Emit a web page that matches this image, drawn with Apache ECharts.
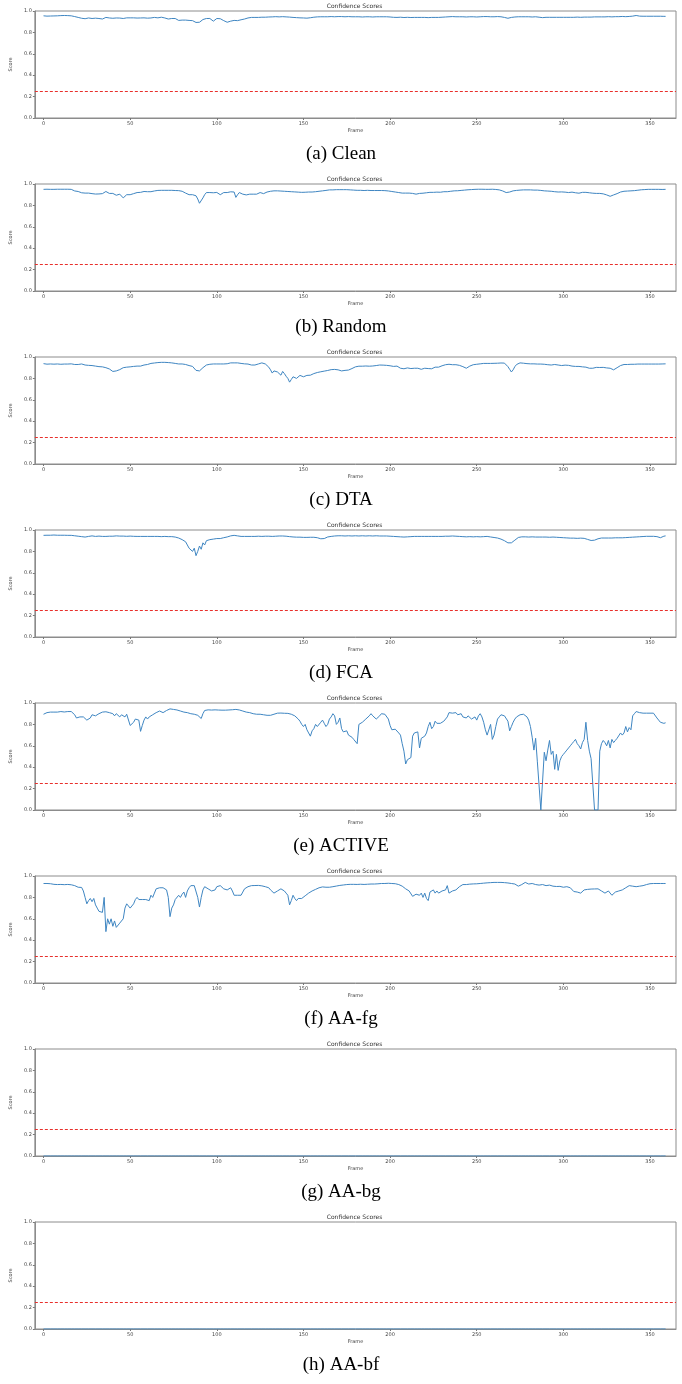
<!DOCTYPE html>
<html style="height: 100%">
  <head>
    <meta charset="utf-8" />
  </head>
  <body style="height: 100%; margin: 0; background: #fff">
    <div id="container" style="width: 682px; height: 1384px"></div>

    <script
      type="text/javascript"
      src="https://cdn.jsdelivr.net/npm/echarts@6/dist/echarts.min.js"
    ></script>

    <script type="text/javascript">
      var captions = ["(a) Clean", "(b) Random", "(c) DTA", "(d) FCA", "(e) ACTIVE", "(f) AA-fg", "(g) AA-bg", "(h) AA-bf"];
      var xTicks = [0, 50, 100, 150, 200, 250, 300, 350];
      var threshold = 0.25;

      // confidence score per frame (frames 0..359), 20 frames per row
      var clean = [
        0.955,0.953,0.952,0.952,0.953,0.953,0.954,0.955,0.955,0.956,0.957,0.958,0.958,0.958,0.957,0.956,0.955,0.952,0.948,0.944,
        0.94,0.935,0.932,0.93,0.928,0.932,0.935,0.933,0.93,0.932,0.933,0.932,0.93,0.929,0.925,0.935,0.94,0.938,0.935,0.934,
        0.932,0.933,0.935,0.936,0.934,0.932,0.93,0.935,0.936,0.935,0.936,0.937,0.936,0.935,0.934,0.932,0.935,0.937,0.936,0.935,
        0.933,0.93,0.935,0.938,0.94,0.938,0.936,0.94,0.942,0.94,0.935,0.93,0.925,0.928,0.93,0.932,0.93,0.92,0.912,0.91,
        0.915,0.918,0.915,0.91,0.912,0.915,0.91,0.9,0.893,0.885,0.895,0.91,0.92,0.925,0.93,0.935,0.93,0.92,0.905,0.915,
        0.93,0.932,0.928,0.92,0.91,0.895,0.895,0.9,0.905,0.91,0.912,0.905,0.91,0.915,0.918,0.92,0.925,0.93,0.935,0.937,
        0.94,0.94,0.94,0.942,0.94,0.941,0.942,0.943,0.942,0.943,0.944,0.945,0.945,0.946,0.947,0.946,0.945,0.946,0.947,0.945,
        0.945,0.944,0.943,0.942,0.94,0.94,0.938,0.937,0.936,0.935,0.935,0.934,0.933,0.935,0.937,0.94,0.942,0.944,0.945,0.946,
        0.946,0.947,0.946,0.945,0.946,0.947,0.948,0.947,0.946,0.947,0.948,0.949,0.948,0.947,0.946,0.947,0.948,0.947,0.946,0.945,
        0.946,0.947,0.946,0.945,0.944,0.945,0.946,0.947,0.946,0.945,0.944,0.945,0.946,0.947,0.946,0.945,0.946,0.947,0.946,0.945,
        0.944,0.942,0.941,0.94,0.94,0.941,0.942,0.94,0.939,0.94,0.941,0.94,0.939,0.938,0.94,0.941,0.94,0.939,0.94,0.941,
        0.94,0.939,0.938,0.939,0.94,0.941,0.94,0.939,0.94,0.941,0.942,0.943,0.944,0.945,0.946,0.947,0.948,0.947,0.946,0.945,
        0.946,0.947,0.946,0.945,0.944,0.945,0.946,0.947,0.946,0.945,0.944,0.945,0.946,0.947,0.948,0.949,0.948,0.947,0.946,0.945,
        0.946,0.947,0.948,0.947,0.946,0.945,0.94,0.935,0.932,0.935,0.94,0.942,0.944,0.945,0.946,0.947,0.946,0.945,0.946,0.947,
        0.946,0.945,0.944,0.945,0.946,0.944,0.942,0.94,0.938,0.94,0.941,0.942,0.941,0.94,0.941,0.942,0.941,0.94,0.941,0.942,
        0.941,0.94,0.941,0.942,0.941,0.94,0.941,0.942,0.943,0.942,0.941,0.942,0.943,0.944,0.943,0.942,0.943,0.944,0.945,0.944,
        0.945,0.946,0.945,0.944,0.945,0.946,0.947,0.946,0.945,0.946,0.947,0.948,0.947,0.948,0.949,0.948,0.947,0.948,0.949,0.95,
        0.952,0.955,0.958,0.955,0.952,0.95,0.951,0.952,0.951,0.95,0.951,0.952,0.951,0.95,0.951,0.952,0.951,0.95,0.95,0.95
      ];

      var random = [
        0.95,0.95,0.951,0.95,0.95,0.951,0.95,0.95,0.951,0.952,0.951,0.95,0.951,0.952,0.951,0.95,0.95,0.945,0.935,0.932,
        0.93,0.925,0.918,0.915,0.915,0.914,0.915,0.913,0.91,0.908,0.906,0.905,0.907,0.906,0.91,0.92,0.93,0.925,0.912,0.91,
        0.912,0.905,0.895,0.9,0.905,0.89,0.87,0.885,0.9,0.902,0.9,0.905,0.91,0.915,0.92,0.925,0.922,0.925,0.93,0.93,
        0.928,0.925,0.928,0.932,0.935,0.938,0.94,0.94,0.941,0.94,0.941,0.942,0.941,0.94,0.941,0.94,0.939,0.94,0.938,0.935,
        0.932,0.925,0.915,0.905,0.9,0.902,0.9,0.895,0.89,0.86,0.82,0.835,0.87,0.9,0.92,0.922,0.92,0.92,0.918,0.92,
        0.921,0.91,0.9,0.91,0.92,0.922,0.92,0.925,0.927,0.93,0.925,0.875,0.9,0.92,0.915,0.905,0.9,0.898,0.9,0.905,
        0.91,0.905,0.9,0.905,0.915,0.92,0.915,0.91,0.92,0.925,0.93,0.932,0.935,0.936,0.935,0.936,0.935,0.934,0.933,0.932,
        0.931,0.93,0.929,0.928,0.927,0.926,0.925,0.924,0.923,0.922,0.922,0.923,0.924,0.925,0.926,0.925,0.926,0.928,0.93,0.932,
        0.934,0.936,0.938,0.94,0.942,0.945,0.946,0.945,0.946,0.947,0.946,0.947,0.948,0.947,0.946,0.947,0.946,0.945,0.944,0.943,
        0.942,0.941,0.94,0.941,0.94,0.939,0.94,0.941,0.94,0.939,0.938,0.939,0.94,0.939,0.938,0.939,0.94,0.938,0.936,0.935,
        0.933,0.93,0.928,0.925,0.922,0.92,0.918,0.915,0.918,0.915,0.912,0.915,0.918,0.912,0.908,0.905,0.91,0.912,0.915,0.914,
        0.915,0.918,0.92,0.922,0.92,0.922,0.925,0.924,0.925,0.923,0.925,0.928,0.93,0.928,0.93,0.932,0.935,0.936,0.935,0.937,
        0.938,0.94,0.942,0.943,0.945,0.946,0.947,0.948,0.949,0.95,0.95,0.951,0.95,0.951,0.95,0.95,0.951,0.95,0.95,0.951,
        0.95,0.949,0.948,0.945,0.94,0.935,0.928,0.92,0.918,0.925,0.932,0.936,0.938,0.94,0.942,0.943,0.944,0.945,0.944,0.945,
        0.946,0.945,0.944,0.943,0.942,0.943,0.942,0.94,0.938,0.936,0.935,0.934,0.933,0.932,0.93,0.928,0.926,0.925,0.927,0.926,
        0.925,0.924,0.922,0.92,0.922,0.924,0.922,0.918,0.915,0.914,0.918,0.922,0.925,0.922,0.92,0.918,0.916,0.914,0.915,0.912,
        0.91,0.912,0.91,0.908,0.905,0.898,0.89,0.885,0.89,0.898,0.905,0.91,0.918,0.925,0.93,0.932,0.933,0.934,0.935,0.936,
        0.937,0.938,0.94,0.942,0.944,0.946,0.947,0.948,0.949,0.95,0.951,0.95,0.951,0.95,0.951,0.95,0.95,0.949,0.95,0.95
      ];

      var dta = [
        0.938,0.935,0.933,0.934,0.935,0.934,0.933,0.934,0.935,0.934,0.932,0.933,0.934,0.933,0.934,0.935,0.936,0.935,0.93,0.928,
        0.93,0.932,0.935,0.93,0.925,0.92,0.922,0.918,0.92,0.918,0.915,0.912,0.91,0.912,0.908,0.905,0.9,0.895,0.888,0.88,
        0.865,0.862,0.87,0.875,0.882,0.89,0.9,0.91,0.905,0.9,0.908,0.91,0.912,0.91,0.915,0.918,0.915,0.92,0.925,0.928,
        0.93,0.935,0.94,0.942,0.944,0.946,0.948,0.95,0.95,0.949,0.95,0.949,0.948,0.947,0.945,0.942,0.94,0.938,0.935,0.94,
        0.935,0.932,0.93,0.925,0.92,0.918,0.912,0.9,0.875,0.86,0.87,0.885,0.9,0.915,0.925,0.93,0.932,0.934,0.935,0.934,
        0.935,0.936,0.935,0.934,0.935,0.936,0.937,0.94,0.945,0.946,0.945,0.944,0.945,0.943,0.94,0.938,0.936,0.935,0.934,0.93,
        0.925,0.918,0.925,0.932,0.935,0.94,0.945,0.94,0.935,0.925,0.905,0.88,0.85,0.87,0.875,0.86,0.855,0.83,0.865,0.845,
        0.82,0.8,0.765,0.79,0.815,0.805,0.8,0.81,0.828,0.82,0.815,0.825,0.828,0.81,0.83,0.84,0.845,0.85,0.855,0.86,
        0.862,0.865,0.868,0.87,0.874,0.878,0.882,0.885,0.884,0.882,0.88,0.875,0.87,0.872,0.875,0.874,0.878,0.885,0.892,0.9,
        0.908,0.912,0.914,0.915,0.914,0.915,0.916,0.915,0.914,0.915,0.916,0.918,0.92,0.922,0.925,0.926,0.924,0.925,0.922,0.92,
        0.918,0.915,0.912,0.91,0.915,0.905,0.895,0.88,0.89,0.9,0.898,0.895,0.892,0.888,0.895,0.9,0.895,0.89,0.885,0.89,
        0.895,0.9,0.892,0.885,0.89,0.898,0.905,0.91,0.905,0.91,0.918,0.925,0.928,0.93,0.932,0.93,0.928,0.93,0.928,0.925,
        0.922,0.918,0.91,0.9,0.895,0.905,0.915,0.922,0.928,0.93,0.932,0.935,0.936,0.938,0.94,0.941,0.94,0.939,0.94,0.942,
        0.941,0.94,0.942,0.943,0.944,0.945,0.943,0.935,0.91,0.885,0.86,0.88,0.91,0.93,0.94,0.945,0.944,0.942,0.94,0.938,
        0.937,0.936,0.935,0.936,0.935,0.934,0.935,0.934,0.933,0.932,0.93,0.928,0.926,0.925,0.928,0.93,0.928,0.925,0.922,0.92,
        0.922,0.924,0.925,0.922,0.92,0.915,0.91,0.912,0.915,0.912,0.905,0.908,0.91,0.905,0.9,0.895,0.885,0.895,0.905,0.903,
        0.9,0.902,0.905,0.903,0.9,0.898,0.902,0.895,0.885,0.88,0.89,0.9,0.91,0.92,0.928,0.93,0.931,0.93,0.931,0.932,
        0.933,0.932,0.933,0.934,0.935,0.934,0.933,0.934,0.935,0.934,0.933,0.934,0.935,0.934,0.933,0.934,0.935,0.935,0.936,0.936
      ];

      var fca = [
        0.95,0.95,0.951,0.95,0.951,0.952,0.953,0.952,0.951,0.952,0.951,0.95,0.951,0.95,0.95,0.949,0.95,0.948,0.946,0.944,
        0.942,0.94,0.938,0.935,0.934,0.936,0.94,0.942,0.945,0.943,0.94,0.942,0.943,0.941,0.94,0.938,0.94,0.941,0.942,0.943,
        0.942,0.944,0.945,0.944,0.943,0.942,0.943,0.942,0.941,0.942,0.943,0.942,0.941,0.94,0.94,0.941,0.94,0.939,0.94,0.941,
        0.94,0.939,0.94,0.941,0.94,0.939,0.94,0.939,0.938,0.939,0.94,0.939,0.938,0.937,0.938,0.936,0.934,0.93,0.925,0.915,
        0.91,0.9,0.89,0.86,0.83,0.84,0.8,0.83,0.76,0.8,0.85,0.82,0.88,0.86,0.9,0.905,0.91,0.912,0.915,0.918,
        0.92,0.922,0.92,0.925,0.928,0.93,0.935,0.94,0.945,0.948,0.95,0.948,0.945,0.943,0.94,0.938,0.94,0.939,0.94,0.941,
        0.94,0.939,0.94,0.941,0.942,0.941,0.94,0.941,0.942,0.943,0.942,0.941,0.94,0.941,0.942,0.943,0.944,0.945,0.944,0.943,
        0.942,0.94,0.938,0.936,0.935,0.934,0.933,0.932,0.933,0.932,0.931,0.93,0.931,0.93,0.932,0.933,0.932,0.93,0.928,0.925,
        0.918,0.912,0.92,0.93,0.935,0.938,0.94,0.942,0.944,0.945,0.946,0.945,0.946,0.945,0.944,0.945,0.946,0.945,0.944,0.945,
        0.946,0.945,0.944,0.945,0.946,0.945,0.944,0.945,0.946,0.945,0.944,0.945,0.946,0.945,0.944,0.945,0.944,0.943,0.944,0.943,
        0.942,0.941,0.94,0.939,0.938,0.937,0.936,0.935,0.934,0.935,0.936,0.937,0.938,0.939,0.94,0.939,0.94,0.939,0.94,0.941,
        0.94,0.939,0.94,0.941,0.94,0.939,0.94,0.941,0.94,0.939,0.94,0.941,0.942,0.941,0.942,0.943,0.944,0.943,0.942,0.941,
        0.94,0.939,0.938,0.937,0.936,0.937,0.938,0.937,0.936,0.937,0.938,0.937,0.936,0.937,0.938,0.939,0.94,0.938,0.935,0.932,
        0.93,0.928,0.925,0.92,0.915,0.91,0.9,0.89,0.88,0.875,0.88,0.89,0.905,0.92,0.93,0.935,0.936,0.935,0.936,0.935,
        0.934,0.935,0.936,0.935,0.934,0.935,0.934,0.933,0.934,0.935,0.934,0.933,0.932,0.933,0.934,0.933,0.932,0.931,0.93,0.929,
        0.928,0.927,0.926,0.925,0.924,0.925,0.924,0.923,0.922,0.923,0.924,0.923,0.922,0.918,0.912,0.905,0.902,0.9,0.905,0.912,
        0.918,0.922,0.925,0.924,0.925,0.926,0.925,0.924,0.925,0.926,0.927,0.928,0.927,0.926,0.927,0.928,0.929,0.93,0.931,0.932,
        0.933,0.934,0.935,0.936,0.937,0.938,0.939,0.94,0.941,0.94,0.941,0.942,0.941,0.94,0.938,0.932,0.928,0.935,0.942,0.945
      ];

      var active = [
        0.895,0.9,0.91,0.912,0.915,0.912,0.915,0.918,0.915,0.917,0.92,0.918,0.916,0.918,0.92,0.918,0.92,0.92,0.89,0.86,
        0.865,0.87,0.872,0.87,0.86,0.84,0.825,0.86,0.89,0.885,0.88,0.89,0.9,0.905,0.915,0.92,0.918,0.912,0.91,0.905,
        0.9,0.88,0.9,0.885,0.87,0.89,0.885,0.87,0.895,0.89,0.79,0.805,0.82,0.85,0.845,0.84,0.735,0.79,0.84,0.87,
        0.85,0.87,0.88,0.89,0.9,0.91,0.92,0.925,0.92,0.91,0.912,0.93,0.935,0.945,0.942,0.94,0.938,0.935,0.93,0.925,
        0.92,0.915,0.912,0.91,0.905,0.9,0.898,0.895,0.89,0.885,0.88,0.855,0.9,0.93,0.935,0.936,0.935,0.934,0.935,0.936,
        0.935,0.934,0.935,0.933,0.932,0.933,0.934,0.935,0.936,0.937,0.938,0.94,0.938,0.935,0.93,0.925,0.92,0.915,0.912,0.91,
        0.905,0.9,0.898,0.895,0.897,0.895,0.893,0.89,0.888,0.885,0.88,0.885,0.89,0.895,0.9,0.905,0.908,0.906,0.905,0.904,
        0.905,0.903,0.9,0.895,0.89,0.88,0.87,0.85,0.83,0.8,0.78,0.8,0.75,0.72,0.69,0.74,0.76,0.8,0.78,0.79,
        0.82,0.84,0.81,0.78,0.8,0.85,0.87,0.9,0.88,0.8,0.82,0.86,0.76,0.73,0.72,0.74,0.7,0.69,0.68,0.66,
        0.65,0.62,0.8,0.81,0.82,0.83,0.85,0.86,0.88,0.9,0.88,0.87,0.85,0.86,0.88,0.9,0.9,0.895,0.89,0.85,
        0.79,0.75,0.76,0.755,0.74,0.72,0.7,0.62,0.55,0.43,0.47,0.485,0.49,0.69,0.72,0.71,0.73,0.58,0.67,0.68,
        0.69,0.72,0.78,0.82,0.76,0.78,0.83,0.81,0.8,0.81,0.82,0.83,0.82,0.87,0.91,0.9,0.905,0.92,0.91,0.89,
        0.895,0.9,0.87,0.875,0.86,0.88,0.87,0.85,0.86,0.87,0.84,0.88,0.9,0.87,0.82,0.75,0.7,0.7,0.8,0.66,
        0.7,0.78,0.85,0.87,0.89,0.885,0.88,0.89,0.83,0.74,0.78,0.82,0.85,0.87,0.88,0.89,0.9,0.895,0.885,0.87,
        0.84,0.78,0.68,0.56,0.67,0.45,0.44,0,0,0.54,0.46,0.56,0.65,0.52,0.55,0.38,0.52,0.37,0.46,0.5,
        0.52,0.54,0.56,0.58,0.6,0.62,0.64,0.66,0.62,0.6,0.57,0.63,0.66,0.82,0.65,0.55,0.48,0.48,0,0,
        0,0.55,0.62,0.65,0.63,0.6,0.65,0.58,0.66,0.63,0.65,0.67,0.66,0.72,0.7,0.72,0.78,0.73,0.77,0.75,
        0.88,0.9,0.92,0.915,0.91,0.9,0.905,0.91,0.905,0.9,0.905,0.91,0.905,0.9,0.86,0.84,0.82,0.815,0.81,0.815
      ];

      var aaFg = [
        0.93,0.93,0.93,0.929,0.928,0.925,0.922,0.921,0.92,0.92,0.921,0.92,0.919,0.92,0.921,0.92,0.918,0.915,0.91,0.9,
        0.895,0.895,0.893,0.86,0.8,0.74,0.77,0.79,0.76,0.79,0.73,0.7,0.67,0.675,0.66,0.8,0.48,0.6,0.55,0.6,
        0.53,0.58,0.52,0.51,0.56,0.55,0.6,0.7,0.74,0.75,0.7,0.71,0.74,0.78,0.8,0.78,0.77,0.78,0.775,0.78,
        0.79,0.77,0.82,0.8,0.84,0.88,0.89,0.89,0.892,0.89,0.888,0.87,0.8,0.62,0.7,0.73,0.78,0.79,0.82,0.8,
        0.83,0.85,0.8,0.86,0.89,0.91,0.912,0.91,0.9,0.8,0.71,0.8,0.87,0.9,0.89,0.88,0.87,0.86,0.85,0.87,
        0.9,0.905,0.91,0.9,0.88,0.885,0.87,0.88,0.89,0.86,0.82,0.815,0.82,0.818,0.82,0.85,0.88,0.89,0.9,0.905,
        0.91,0.912,0.911,0.91,0.912,0.91,0.908,0.905,0.9,0.895,0.89,0.87,0.86,0.84,0.85,0.86,0.87,0.88,0.87,0.86,
        0.84,0.82,0.73,0.77,0.82,0.79,0.77,0.79,0.78,0.79,0.8,0.815,0.83,0.84,0.85,0.86,0.87,0.875,0.88,0.89,
        0.9,0.898,0.896,0.895,0.894,0.895,0.897,0.9,0.903,0.906,0.91,0.912,0.914,0.916,0.918,0.92,0.921,0.922,0.921,0.922,
        0.922,0.921,0.922,0.923,0.922,0.921,0.922,0.923,0.924,0.925,0.924,0.925,0.926,0.927,0.928,0.93,0.931,0.93,0.931,0.932,
        0.931,0.93,0.93,0.928,0.925,0.92,0.915,0.905,0.895,0.88,0.87,0.86,0.85,0.81,0.82,0.83,0.84,0.82,0.84,0.8,
        0.84,0.79,0.77,0.85,0.86,0.87,0.84,0.86,0.84,0.85,0.86,0.865,0.87,0.91,0.84,0.85,0.86,0.865,0.87,0.885,
        0.9,0.91,0.92,0.918,0.92,0.922,0.924,0.925,0.926,0.925,0.927,0.928,0.93,0.932,0.933,0.935,0.936,0.937,0.938,0.939,
        0.94,0.939,0.94,0.941,0.94,0.939,0.938,0.937,0.935,0.933,0.93,0.928,0.925,0.915,0.905,0.912,0.92,0.93,0.94,0.935,
        0.925,0.928,0.93,0.925,0.92,0.91,0.915,0.918,0.92,0.915,0.91,0.912,0.915,0.91,0.905,0.9,0.902,0.905,0.903,0.9,
        0.895,0.898,0.9,0.895,0.89,0.88,0.855,0.87,0.85,0.845,0.84,0.855,0.87,0.872,0.875,0.876,0.878,0.88,0.879,0.88,
        0.88,0.875,0.86,0.85,0.84,0.83,0.86,0.85,0.82,0.835,0.85,0.855,0.86,0.865,0.87,0.88,0.89,0.9,0.91,0.905,
        0.905,0.9,0.9,0.903,0.905,0.908,0.91,0.915,0.92,0.925,0.928,0.93,0.93,0.931,0.93,0.931,0.93,0.931,0.93,0.93
      ];

      var aaBg = [
        0,0,0,0,0,0,0,0,0,0,0,0,0,0,0,0,0,0,0,0,
        0,0,0,0,0,0,0,0,0,0,0,0,0,0,0,0,0,0,0,0,
        0,0,0,0,0,0,0,0,0,0,0,0,0,0,0,0,0,0,0,0,
        0,0,0,0,0,0,0,0,0,0,0,0,0,0,0,0,0,0,0,0,
        0,0,0,0,0,0,0,0,0,0,0,0,0,0,0,0,0,0,0,0,
        0,0,0,0,0,0,0,0,0,0,0,0,0,0,0,0,0,0,0,0,
        0,0,0,0,0,0,0,0,0,0,0,0,0,0,0,0,0,0,0,0,
        0,0,0,0,0,0,0,0,0,0,0,0,0,0,0,0,0,0,0,0,
        0,0,0,0,0,0,0,0,0,0,0,0,0,0,0,0,0,0,0,0,
        0,0,0,0,0,0,0,0,0,0,0,0,0,0,0,0,0,0,0,0,
        0,0,0,0,0,0,0,0,0,0,0,0,0,0,0,0,0,0,0,0,
        0,0,0,0,0,0,0,0,0,0,0,0,0,0,0,0,0,0,0,0,
        0,0,0,0,0,0,0,0,0,0,0,0,0,0,0,0,0,0,0,0,
        0,0,0,0,0,0,0,0,0,0,0,0,0,0,0,0,0,0,0,0,
        0,0,0,0,0,0,0,0,0,0,0,0,0,0,0,0,0,0,0,0,
        0,0,0,0,0,0,0,0,0,0,0,0,0,0,0,0,0,0,0,0,
        0,0,0,0,0,0,0,0,0,0,0,0,0,0,0,0,0,0,0,0,
        0,0,0,0,0,0,0,0,0,0,0,0,0,0,0,0,0,0,0,0
      ];

      var aaBf = [
        0,0,0,0,0,0,0,0,0,0,0,0,0,0,0,0,0,0,0,0,
        0,0,0,0,0,0,0,0,0,0,0,0,0,0,0,0,0,0,0,0,
        0,0,0,0,0,0,0,0,0,0,0,0,0,0,0,0,0,0,0,0,
        0,0,0,0,0,0,0,0,0,0,0,0,0,0,0,0,0,0,0,0,
        0,0,0,0,0,0,0,0,0,0,0,0,0,0,0,0,0,0,0,0,
        0,0,0,0,0,0,0,0,0,0,0,0,0,0,0,0,0,0,0,0,
        0,0,0,0,0,0,0,0,0,0,0,0,0,0,0,0,0,0,0,0,
        0,0,0,0,0,0,0,0,0,0,0,0,0,0,0,0,0,0,0,0,
        0,0,0,0,0,0,0,0,0,0,0,0,0,0,0,0,0,0,0,0,
        0,0,0,0,0,0,0,0,0,0,0,0,0,0,0,0,0,0,0,0,
        0,0,0,0,0,0,0,0,0,0,0,0,0,0,0,0,0,0,0,0,
        0,0,0,0,0,0,0,0,0,0,0,0,0,0,0,0,0,0,0,0,
        0,0,0,0,0,0,0,0,0,0,0,0,0,0,0,0,0,0,0,0,
        0,0,0,0,0,0,0,0,0,0,0,0,0,0,0,0,0,0,0,0,
        0,0,0,0,0,0,0,0,0,0,0,0,0,0,0,0,0,0,0,0,
        0,0,0,0,0,0,0,0,0,0,0,0,0,0,0,0,0,0,0,0,
        0,0,0,0,0,0,0,0,0,0,0,0,0,0,0,0,0,0,0,0,
        0,0,0,0,0,0,0,0,0,0,0,0,0,0,0,0,0,0,0,0
      ];

      var panels = [clean, random, dta, fca, active, aaFg, aaBg, aaBf];

      var dom = document.getElementById("container");
      var myChart = echarts.init(dom, null, { renderer: "canvas" });

      var STEP = 173;
      var PLOT_LEFT = 33;
      var PLOT_W = 643;
      var axisFont = { fontFamily: "DejaVu Sans", fontSize: 5, color: "#444" };

      var grid = [], xAxis = [], yAxis = [], series = [], title = [];

      panels.forEach(function (values, i) {
        var off = i * STEP;
        grid.push({
          left: PLOT_LEFT,
          width: PLOT_W,
          top: 11 + off,
          height: 107,
          show: true,
          borderColor: "#8c8c8c",
          borderWidth: 1,
          backgroundColor: "transparent",
        });
        xAxis.push({
          gridIndex: i,
          type: "value",
          min: -5,
          max: 365,
          name: "Frame",
          nameLocation: "middle",
          nameGap: 10,
          nameTextStyle: axisFont,
          axisLine: { show: true, onZero: false, lineStyle: { color: "#8c8c8c", width: 1 } },
          axisTick: { show: true, length: 2, customValues: xTicks, lineStyle: { color: "#777" } },
          axisLabel: Object.assign({ margin: 3, customValues: xTicks }, axisFont),
          splitLine: { show: false },
        });
        yAxis.push({
          gridIndex: i,
          type: "value",
          min: 0,
          max: 1,
          interval: 0.2,
          name: "Score",
          nameLocation: "middle",
          nameGap: 13,
          nameRotate: 90,
          nameTextStyle: axisFont,
          axisLine: { show: true, onZero: false, lineStyle: { color: "#8c8c8c", width: 1 } },
          axisTick: { show: true, length: 2, lineStyle: { color: "#777" } },
          axisLabel: Object.assign(
            {
              margin: 3,
              formatter: function (v) {
                return v.toFixed(1);
              },
            },
            axisFont
          ),
          splitLine: { show: false },
        });
        series.push({
          type: "line",
          xAxisIndex: i,
          yAxisIndex: i,
          showSymbol: false,
          symbol: "none",
          animation: false,
          data: values.map(function (v, j) {
            return [j, v];
          }),
          lineStyle: { color: "#3f86c2", width: 1 },
          markLine: {
            silent: true,
            symbol: ["none", "none"],
            label: { show: false },
            lineStyle: { color: "#e8302c", type: [3, 2], width: 1 },
            data: [{ yAxis: threshold }],
          },
        });
        title.push({
          text: "Confidence Scores",
          left: PLOT_LEFT + PLOT_W / 2,
          top: 3 + off,
          padding: 0,
          textAlign: "center",
          textVerticalAlign: "top",
          textStyle: { fontFamily: "DejaVu Sans", fontSize: 6, fontWeight: "normal", color: "#333" },
        });
        title.push({
          text: captions[i],
          left: 341,
          top: 145 + off,
          padding: 0,
          textAlign: "center",
          textVerticalAlign: "top",
          textStyle: { fontFamily: "Liberation Serif", fontSize: 19, fontWeight: "normal", color: "#000" },
        });
      });

      var option = {
        backgroundColor: "#fff",
        animation: false,
        title: title,
        grid: grid,
        xAxis: xAxis,
        yAxis: yAxis,
        series: series,
      };

      if (option && typeof option === "object") {
        myChart.setOption(option);
      }
    </script>
  </body>
</html>
